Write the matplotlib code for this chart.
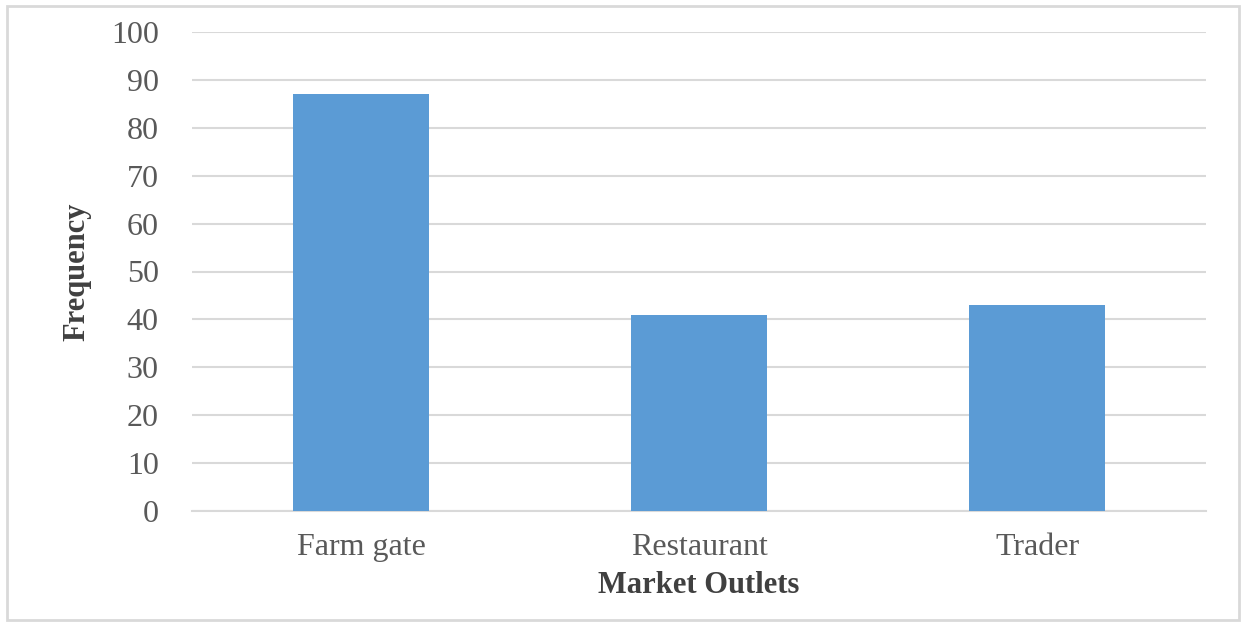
import matplotlib.pyplot as plt
from matplotlib.patches import Rectangle

outlets = ["Farm gate", "Restaurant", "Trader"]
frequency = [87, 41, 43]
yticks = list(range(0, 101, 10))

plt.rcParams['font.family'] = ['Liberation Serif', 'DejaVu Serif']

fig = plt.figure(figsize=(12.43, 6.26), dpi=100)
ax = fig.add_axes([192 / 1243, 1 - 511 / 626, (1206 - 192) / 1243, (511 - 32) / 626])

ax.bar(range(len(outlets)), frequency, width=0.405, color="#5b9bd5", zorder=3)
ax.set_xlim(-0.5, len(outlets) - 0.5)
ax.set_ylim(0, 100)
ax.set_yticks(yticks)
ax.set_xticks(range(len(outlets)))
ax.set_xticklabels(outlets)
ax.grid(axis="y", color="#d9d9d9", linewidth=1.5, zorder=0)
for s in ["top", "right", "left"]:
    ax.spines[s].set_visible(False)
ax.spines["bottom"].set_color("#d9d9d9")
ax.spines["bottom"].set_linewidth(1.5)
ax.tick_params(axis="both", length=0, labelsize=23, colors="#595959")
ax.tick_params(axis="y", pad=24)
ax.tick_params(axis="x", pad=16)

ax.set_xlabel("Market Outlets", fontsize=22, fontweight="bold", color="#404040", labelpad=6)
ax.set_ylabel("Frequency", fontsize=22, fontweight="bold", color="#404040", labelpad=14)

fig.patches.append(Rectangle((7 / 1243, 6 / 626), 1232 / 1243, 614 / 626, transform=fig.transFigure,
                             fill=False, edgecolor="#d9d9d9", linewidth=2))

fig.savefig("out.png", dpi=100)
